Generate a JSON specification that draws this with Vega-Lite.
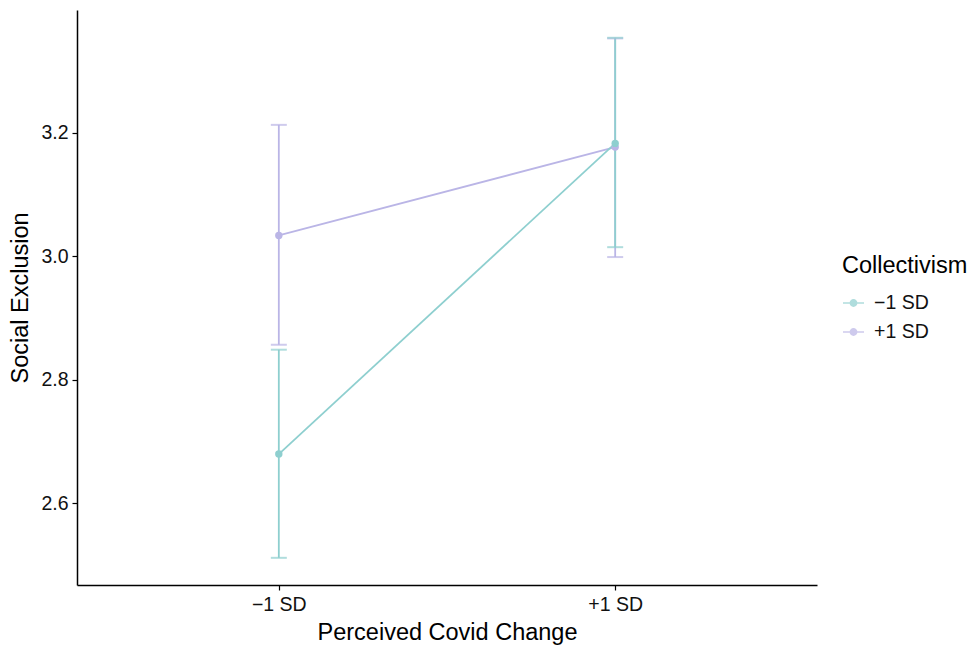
{
  "$schema": "https://vega.github.io/schema/vega-lite/v6.json",
  "autosize": {"type": "none"},
  "width": 740,
  "height": 575,
  "padding": {"left": 77, "top": 10, "right": 156, "bottom": 64},
  "background": "white",
  "config": {
    "view": {"stroke": null},
    "font": "Liberation Sans",
    "axis": {"grid": false, "domainColor": "black", "domainWidth": 1.5, "tickColor": "black", "tickSize": 5, "tickWidth": 1.2, "labelColor": "#111111", "labelFontSize": 19.5, "titleFontSize": 23.5, "titleFontWeight": "normal", "titleColor": "black", "labelFont": "Liberation Sans", "titleFont": "Liberation Sans"}
  },
  "data": {
    "values": [
      {"covid": "−1 SD", "coll": "+1 SD", "est": 3.034, "lo": 2.857, "hi": 3.213},
      {"covid": "+1 SD", "coll": "+1 SD", "est": 3.177, "lo": 2.999, "hi": 3.353},
      {"covid": "−1 SD", "coll": "−1 SD", "est": 2.680, "lo": 2.512, "hi": 2.849},
      {"covid": "+1 SD", "coll": "−1 SD", "est": 3.183, "lo": 3.015, "hi": 3.354}
    ]
  },
  "encoding": {
    "x": {"field": "covid", "type": "ordinal", "sort": ["−1 SD", "+1 SD"], "scale": {"type": "point", "padding": 0.6}, "title": "Perceived Covid Change", "axis": {"labelAngle": 0, "labelPadding": 5, "titlePadding": 7}},
    "color": {"field": "coll", "type": "nominal", "sort": ["−1 SD", "+1 SD"], "scale": {"domain": ["−1 SD", "+1 SD"], "range": ["#8ECFCF", "#BAB5E6"]},
      "legend": {"title": "Collectivism", "orient": "none", "legendX": 765, "legendY": 244, "titleFontSize": 23.5, "titleFontWeight": "normal", "titleColor": "black", "titlePadding": 14, "labelFontSize": 19.5, "labelColor": "#111111", "labelOffset": 9, "symbolType": "M-1,0H1M-0.3,0A0.3,0.3 0 1,0 0.3,0A0.3,0.3 0 1,0 -0.3,0", "symbolSize": 441, "symbolStrokeWidth": 1.5, "rowPadding": 8}}
  },
  "layer": [
    {"mark": {"type": "rule", "strokeWidth": 1.8}, "encoding": {"y": {"field": "lo", "type": "quantitative", "scale": {"domain": [2.468, 3.399], "nice": false, "zero": false}, "title": "Social Exclusion", "axis": {"values": [2.6, 2.8, 3.0, 3.2], "format": ".1f", "labelPadding": 4, "titlePadding": 8}}, "y2": {"field": "hi"}}},
    {"mark": {"type": "tick", "size": 16, "thickness": 2}, "encoding": {"y": {"field": "lo", "type": "quantitative"}}},
    {"mark": {"type": "tick", "size": 16, "thickness": 2}, "encoding": {"y": {"field": "hi", "type": "quantitative"}}},
    {"mark": {"type": "line", "strokeWidth": 1.8}, "encoding": {"y": {"field": "est", "type": "quantitative"}}},
    {"mark": {"type": "point", "filled": true, "opacity": 1, "size": 55}, "encoding": {"y": {"field": "est", "type": "quantitative"}}}
  ]
}
